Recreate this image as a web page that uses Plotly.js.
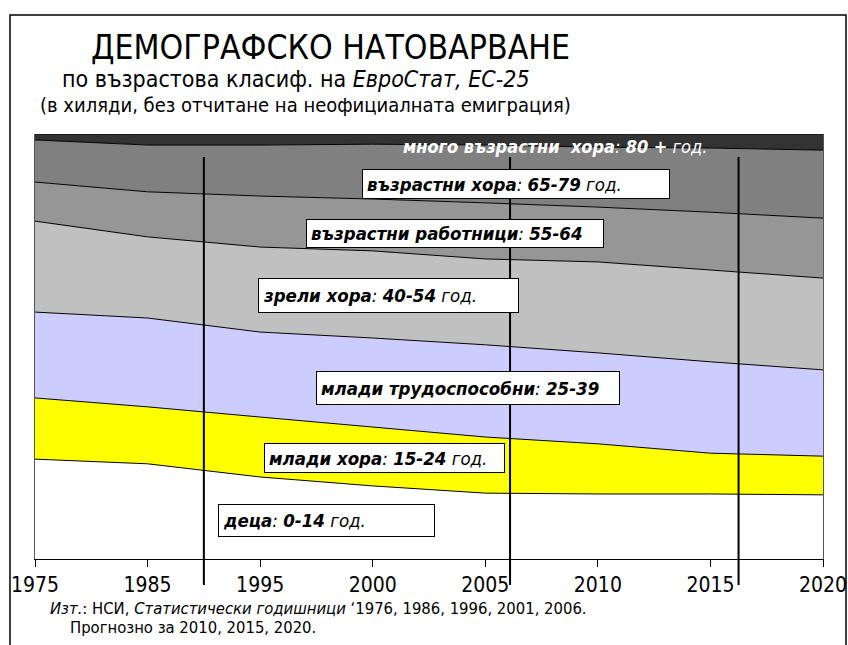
<!DOCTYPE html>
<html>
<head>
<meta charset="utf-8">
<script src="https://cdn.plot.ly/plotly-3.0.1.min.js"></script>
<style>html,body{margin:0;padding:0;background:#fff;}#chart{width:848px;height:645px;}</style>
</head>
<body>
<div id="chart"></div>
<script>
// ---- data (percent of population) ----
const years = ["1975", "1985", "1995", "2000", "2005", "2010", "2015", "2020"];
const age0_14  = [23.5, 22.4, 19.3, 17.2, 15.5, 15.3, 15.3, 15.1];
const age15_24 = [14.4, 13.4, 14.1, 13.9, 13.2, 11.8,  9.6,  9.1];
const age25_39 = [20.2, 20.9, 20.0, 20.9, 21.7, 21.4, 21.5, 20.3];
const age40_54 = [21.4, 19.1, 20.0, 20.5, 20.2, 21.4, 21.6, 21.6];
const age55_64 = [ 9.2, 10.6, 12.0, 12.2, 13.2, 12.9, 13.6, 14.1];
const age65_79 = [ 9.9, 11.0, 12.0, 12.9, 13.6, 14.1, 15.1, 16.0];
const age80p   = [ 1.4,  2.6,  2.6,  2.4,  2.6,  3.1,  3.3,  3.8];
const seriesNames = ["деца: 0-14 год.", "млади хора: 15-24 год.", "млади трудоспособни: 25-39",
  "зрели хора: 40-54 год.", "възрастни работници: 55-64", "възрастни хора: 65-79 год.",
  "много възрастни хора: 80 + год."];
// reference lines on the category axis (index positions)
const refLines = [1.5, 4.22, 6.25];

const NARROW = "Liberation Sans Narrow, Arial Narrow, DejaVu Sans Condensed, sans-serif";
const colors = ["#FFFFFF", "#FFFF00", "#CCCCFF", "#C0C0C0", "#969696", "#808080", "#333333"];
const allSeries = [age0_14, age15_24, age25_39, age40_54, age55_64, age65_79, age80p];

const traces = allSeries.map((vals, i) => ({
  type: "scatter", mode: "lines", x: years, y: vals, name: seriesNames[i],
  stackgroup: "one", fill: i === 0 ? "tozeroy" : "tonexty",
  fillcolor: colors[i], line: {color: "#000", width: 1},
  hoverinfo: "skip", showlegend: false
}));

// pixel helpers for the plot area (l=35, r=823, t=134, b=559)
const PL = 35, PR = 823, PT = 134, PB = 559;
const X = px => (px - PL) / (PR - PL);
const Y = py => (PB - py) / (PB - PT);

function box(text, left, top, w, h) {
  return {xref: "paper", yref: "paper", x: X(left), y: Y(top + h / 2), xanchor: "left", yanchor: "middle",
    text: text, showarrow: false, align: "left", valign: "middle",
    width: w - 10, height: h - 10, borderpad: 4, borderwidth: 1, bordercolor: "#000", bgcolor: "#fff",
    font: {family: NARROW, size: 18.5, color: "#000"}};
}
const annotations = [
  {xref: "paper", yref: "paper", x: X(330), y: Y(47), xanchor: "center", yanchor: "middle", showarrow: false,
   text: "ДЕМОГРАФСКО НАТОВАРВАНЕ", font: {family: NARROW, size: 33.5, color: "#000"}},
  {xref: "paper", yref: "paper", x: X(296), y: Y(79), xanchor: "center", yanchor: "middle", showarrow: false,
   text: "по възрастова класиф. на <i>ЕвроСтат, ЕС-25</i>", font: {family: NARROW, size: 23, color: "#000"}},
  {xref: "paper", yref: "paper", x: X(305), y: Y(105), xanchor: "center", yanchor: "middle", showarrow: false,
   text: "(в хиляди, без отчитане на неофициалната емиграция)", font: {family: NARROW, size: 20, color: "#000"}},
  {xref: "paper", yref: "paper", x: X(709), y: Y(146), xanchor: "right", yanchor: "middle", showarrow: false,
   text: "<b><i>много възрастни  хора</i></b><i>: </i><b><i>80 +</i></b><i> год.</i>",
   font: {family: NARROW, size: 18, color: "#fff"}},
  box("<b><i>възрастни хора</i></b><i>: </i><b><i>65-79</i></b><i> год.</i>", 362, 169, 308, 30),
  box("<b><i>възрастни работници</i></b><i>: </i><b><i>55-64</i></b>", 306, 219, 298, 29),
  box("<b><i>зрели хора</i></b><i>: </i><b><i>40-54</i></b><i> год.</i>", 258, 278, 261, 35),
  box("<b><i>млади трудоспособни</i></b><i>: </i><b><i>25-39</i></b>", 316, 371, 304, 34),
  box("<b><i>млади хора</i></b><i>: </i><b><i>15-24</i></b><i> год.</i>", 264, 443, 241, 30),
  box("<b><i>деца</i></b><i>: </i><b><i>0-14</i></b><i> год.</i>", 218, 504, 217, 33),
  {xref: "paper", yref: "paper", x: X(48), y: Y(608), xanchor: "left", yanchor: "middle", showarrow: false,
   text: "<i>Изт.</i>: НСИ, <i>Статистически годишници</i> ‘1976, 1986, 1996, 2001, 2006.",
   font: {family: NARROW, size: 16.5, color: "#000"}},
  {xref: "paper", yref: "paper", x: X(68), y: Y(627), xanchor: "left", yanchor: "middle", showarrow: false,
   text: "Прогнозно за 2010, 2015, 2020.", font: {family: NARROW, size: 16.5, color: "#000"}}
];

const shapes = refLines.map(v => ({type: "line", xref: "x", yref: "paper", x0: v, x1: v,
  y0: Y(585), y1: Y(157), line: {color: "#000", width: 2}, layer: "above"}));
// outer frame
shapes.push({type: "rect", xref: "paper", yref: "paper", x0: X(10), x1: X(846), y0: Y(660), y1: Y(15),
  line: {color: "#000", width: 1.5}, fillcolor: "rgba(0,0,0,0)", layer: "above"});

const layout = {
  width: 848, height: 645,
  margin: {l: PL, r: 848 - PR, t: PT, b: 645 - PB, pad: 0},
  paper_bgcolor: "#fff", plot_bgcolor: "#fff",
  showlegend: false, hovermode: false,
  xaxis: {type: "category", range: [0, 7], showgrid: false, zeroline: false,
    showline: true, linecolor: "#000", linewidth: 1, ticks: "outside", ticklen: 7, tickcolor: "#000",
    tickfont: {family: NARROW, size: 21, color: "#000"}, fixedrange: true},
  yaxis: {range: [0, 100], showgrid: false, zeroline: false, showticklabels: false,
    showline: true, mirror: true, linecolor: "#555", linewidth: 1, ticks: "", fixedrange: true},
  annotations: annotations,
  shapes: shapes
};

Plotly.newPlot("chart", traces, layout, {displayModeBar: false, staticPlot: true});
</script>
</body>
</html>
